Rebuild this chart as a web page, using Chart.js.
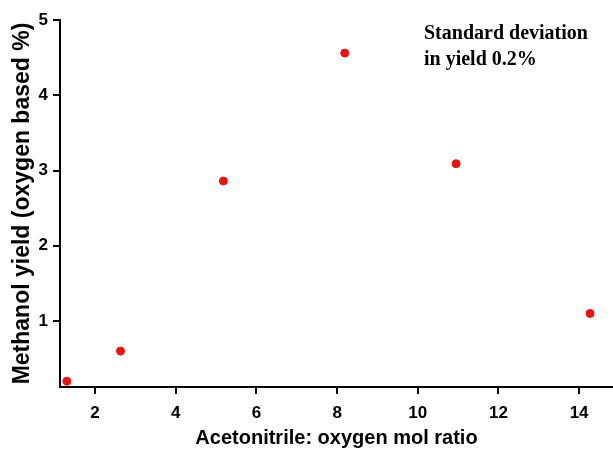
<!DOCTYPE html>
<html>
<head>
<meta charset="utf-8">
<script src="https://cdn.jsdelivr.net/npm/chart.js@4"></script>
<style>
  html, body { margin: 0; padding: 0; background: #fff; }
  .chart-wrapper { width: 613px; height: 451px; position: relative; }
</style>
</head>
<body>
<div class="chart-wrapper"><canvas id="scatter-chart"></canvas></div>
<script>
// acetonitrile : oxygen mol ratio vs methanol yield
const molRatio = [1.30, 2.63, 5.18, 8.19, 10.95, 14.27];
const methanolYield = [0.20, 0.60, 2.86, 4.56, 3.09, 1.10];
const xTicks = [2, 4, 6, 8, 10, 12, 14];
const yTicks = [1, 2, 3, 4, 5];
const noteLines = ['Standard deviation', 'in yield 0.2%'];

const sans = '"Liberation Sans", Arial, sans-serif';

const notePlugin = {
  id: 'note',
  afterDraw(chart) {
    const ctx = chart.ctx;
    ctx.save();
    ctx.fillStyle = '#000';
    ctx.font = 'bold 20px "Liberation Serif", "Times New Roman", serif';
    ctx.textAlign = 'left';
    ctx.textBaseline = 'alphabetic';
    noteLines.forEach((t, i) => ctx.fillText(t, 424, 39 + i * 26));
    ctx.restore();
  },
};

const axisGrid = { drawOnChartArea: false, drawTicks: true, tickLength: 7, color: '#000', lineWidth: 2 };

new Chart(document.getElementById('scatter-chart').getContext('2d'), {
  type: 'scatter',
  data: {
    datasets: [{
      data: molRatio.map((x, i) => ({ x, y: methanolYield[i] })),
      backgroundColor: '#ec1010',
      borderColor: '#ec1010',
      pointRadius: 4,
      pointHoverRadius: 4,
    }],
  },
  options: {
    responsive: true,
    maintainAspectRatio: false,
    animation: false,
    layout: { padding: { top: 20, right: 0, left: 0, bottom: 0 }, autoPadding: false },
    plugins: { legend: { display: false }, tooltip: { enabled: false } },
    scales: {
      x: {
        type: 'linear',
        min: 1.13,
        max: 14.84,
        afterBuildTicks: s => { s.ticks = xTicks.map(v => ({ value: v })); },
        afterFit: s => { s.height = 64; },
        grid: axisGrid,
        border: { color: '#000', width: 2 },
        ticks: { color: '#000', padding: 9, maxRotation: 0, font: { family: sans, weight: 'bold', size: 17 } },
        title: {
          display: true,
          text: 'Acetonitrile: oxygen mol ratio',
          color: '#000',
          padding: { top: 0, bottom: 1 },
          font: { family: sans, weight: 'bold', size: 20 },
        },
      },
      y: {
        type: 'linear',
        min: 0.123,
        max: 5,
        afterBuildTicks: s => { s.ticks = yTicks.map(v => ({ value: v })); },
        afterFit: s => { s.width = 60; },
        grid: axisGrid,
        border: { color: '#000', width: 2 },
        ticks: { color: '#000', padding: 5, font: { family: sans, weight: 'bold', size: 17 } },
        title: {
          display: true,
          text: 'Methanol yield (oxygen based %)',
          color: '#000',
          padding: { top: 9, bottom: 0 },
          font: { family: sans, weight: 'bold', size: 23 },
        },
      },
    },
  },
  plugins: [notePlugin],
});
</script>
</body>
</html>
